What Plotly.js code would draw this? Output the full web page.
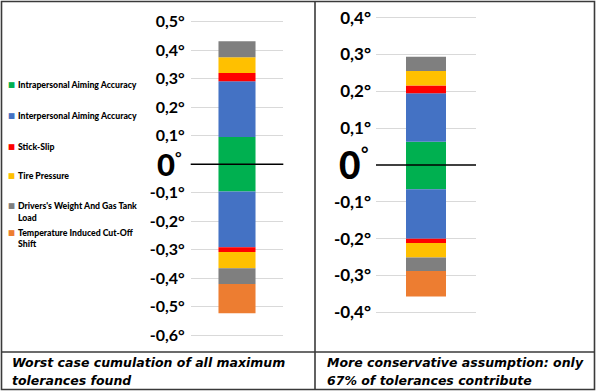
<!DOCTYPE html>
<html><head><meta charset="utf-8">
<script src="https://cdn.plot.ly/plotly-3.0.1.min.js"></script>
<style>html,body{margin:0;padding:0;background:#fff}#chart{width:600px;height:391px}</style>
</head><body><div id="chart"></div>
<script>
// ---- data ----
const categories = ['Intrapersonal Aiming Accuracy', 'Interpersonal Aiming Accuracy', 'Stick-Slip',
  'Tire Pressure', "Drivers's Weight And Gas Tank Load", 'Temperature Induced Cut-Off Shift'];
const legendLines = [['Intrapersonal Aiming Accuracy'], ['Interpersonal Aiming Accuracy'], ['Stick-Slip'],
  ['Tire Pressure'], ["Drivers's Weight And Gas Tank", 'Load'], ['Temperature Induced Cut-Off', 'Shift']];
const colors = ['#00B050', '#4472C4', '#FF0000', '#FFC000', '#7F7F7F', '#ED7D31'];

const worstPositive = [0.095, 0.196, 0.029, 0.055, 0.056, null];
const worstNegative = [-0.096, -0.195, -0.017, -0.057, -0.055, -0.103];
const conservativePositive = [0.063, 0.132, 0.021, 0.039, 0.039, null];
const conservativeNegative = [-0.066, -0.134, -0.012, -0.039, -0.037, -0.069];

const leftTickVals = [0.5, 0.4, 0.3, 0.2, 0.1, -0.1, -0.2, -0.3, -0.4, -0.5, -0.6];
const leftTickText = ['0,5°', '0,4°', '0,3°', '0,2°', '0,1°', '-0,1°', '-0,2°', '-0,3°', '-0,4°', '-0,5°', '-0,6°'];
const rightTickVals = [0.4, 0.3, 0.2, 0.1, -0.1, -0.2, -0.3, -0.4];
const rightTickText = ['0,4°', '0,3°', '0,2°', '0,1°', '-0,1°', '-0,2°', '-0,3°', '-0,4°'];
const zeroLabel = '0';
const degreeSign = '°';
const panelCaptions = [['Worst case cumulation of all maximum', 'tolerances found'],
  ['More conservative assumption: only', '67% of tolerances contribute']];

// ---- helpers ----
const W = 600, H = 391;
const px = x => x / W;
const py = y => 1 - y / H;

const traces = [];
const panels = [
  {x: 'x', y: 'y', cat: 'worst', pos: worstPositive, neg: worstNegative},
  {x: 'x2', y: 'y2', cat: 'conservative', pos: conservativePositive, neg: conservativeNegative}
];
panels.forEach(p => {
  categories.forEach((c, i) => {
    [p.pos[i], p.neg[i]].forEach(v => {
      if (v === null) return;
      traces.push({type: 'bar', x: [p.cat], y: [v], name: c, xaxis: p.x, yaxis: p.y,
        marker: {color: colors[i], line: {width: 0}}, showlegend: false, hoverinfo: 'name+y'});
    });
  });
});

const tickFont = {family: 'Lato, Calibri, sans-serif', size: 16, color: '#000', weight: 'bold'};
const tickFontR = {family: 'Lato, Calibri, sans-serif', size: 17, color: '#000', weight: 'bold'};

const annotations = [];
// legend
const legendY = [[85], [115], [146], [175.5], [205.7, 217.3], [232, 243]];
categories.forEach((c, i) => {
  annotations.push({xref: 'paper', yref: 'paper', x: px(11), y: py(legendY[i][0]), xanchor: 'center', yanchor: 'middle',
    text: '■', showarrow: false, font: {family: 'DejaVu Sans', size: 7.5, color: colors[i]}});
  legendLines[i].forEach((ln, k) => {
    annotations.push({xref: 'paper', yref: 'paper', x: px(15.5), y: py(legendY[i][k]), xanchor: 'left', yanchor: 'middle',
      text: ln, showarrow: false, font: {family: 'Lato, Calibri, sans-serif', size: 8.7, color: '#000', weight: 900}});
  });
});
// big zero labels (digit + small degree sign)
const zeroSpecs = [
  {xr: 'x domain', yr: 'y', size: 31, degSize: 16, shift: -14, degShift: -18, degY: 8},
  {xr: 'x2 domain', yr: 'y2', size: 37, degSize: 18, shift: -14, degShift: -17, degY: 11}
];
zeroSpecs.forEach(z => {
  annotations.push({xref: z.xr, yref: z.yr, x: 0, y: 0, xanchor: 'right', yanchor: 'middle', xshift: z.shift,
    text: zeroLabel, showarrow: false, font: {family: 'Lato, Calibri, sans-serif', size: z.size, color: '#000', weight: 900}});
  annotations.push({xref: z.xr, yref: z.yr, x: 0, y: 0, xanchor: 'left', yanchor: 'middle', xshift: z.degShift, yshift: z.degY,
    text: degreeSign, showarrow: false, font: {family: 'Lato, Calibri, sans-serif', size: z.degSize, color: '#000', weight: 'bold'}});
});
// captions
const capX = [10, 325];
const capY = [362, 380];
panelCaptions.forEach((lines, j) => {
  lines.forEach((ln, k) => {
    annotations.push({xref: 'paper', yref: 'paper', x: px(capX[j]), y: py(capY[k]), xanchor: 'left', yanchor: 'middle',
      text: ln, showarrow: false, font: {family: 'DejaVu Sans', size: 12.5, color: '#000', weight: 'bold', style: 'italic'}});
  });
});

const borderColor = '#3a3a3a';
const shapes = [
  {type: 'rect', xref: 'paper', yref: 'paper', x0: px(1.5), x1: px(594.5), y0: py(389.5), y1: py(1.5), line: {color: borderColor, width: 1.6}},
  {type: 'line', xref: 'paper', yref: 'paper', x0: px(315), x1: px(315), y0: py(389.5), y1: py(1.5), line: {color: borderColor, width: 1.6}},
  {type: 'line', xref: 'paper', yref: 'paper', x0: px(1.5), x1: px(594.5), y0: py(352), y1: py(352), line: {color: borderColor, width: 1.6}},
  {type: 'line', xref: 'x domain', yref: 'y', x0: 0, x1: 1, y0: 0, y1: 0, line: {color: '#000', width: 1.5}, layer: 'above'},
  {type: 'line', xref: 'x2 domain', yref: 'y2', x0: 0, x1: 1, y0: 0, y1: 0, line: {color: '#000', width: 1.5}, layer: 'above'}
];

const layout = {
  width: W, height: H, margin: {l: 0, r: 0, t: 0, b: 0}, paper_bgcolor: '#fff', plot_bgcolor: 'rgba(0,0,0,0)',
  barmode: 'relative', bargap: 0.6, showlegend: false,
  xaxis: {domain: [px(190.7), px(283.3)], showticklabels: false, showgrid: false, zeroline: false, showline: false, fixedrange: true},
  yaxis: {domain: [py(338.05), py(18.85)], range: [-0.61, 0.51], tickmode: 'array', tickvals: leftTickVals, ticktext: leftTickText,
    gridcolor: '#D9D9D9', gridwidth: 1, zeroline: false, showline: false, ticks: '', tickfont: tickFont, ticklabelstandoff: 5, fixedrange: true},
  xaxis2: {domain: [px(376), px(476)], anchor: 'y2', showticklabels: false, showgrid: false, zeroline: false, showline: false, fixedrange: true},
  yaxis2: {domain: [py(316), py(14)], anchor: 'x2', range: [-0.41, 0.41], tickmode: 'array', tickvals: rightTickVals, ticktext: rightTickText,
    gridcolor: '#D9D9D9', gridwidth: 1, zeroline: false, showline: false, ticks: '', tickfont: tickFontR, ticklabelstandoff: 4, fixedrange: true},
  annotations: annotations, shapes: shapes
};

Plotly.newPlot('chart', traces, layout, {displayModeBar: false});
</script></body></html>
